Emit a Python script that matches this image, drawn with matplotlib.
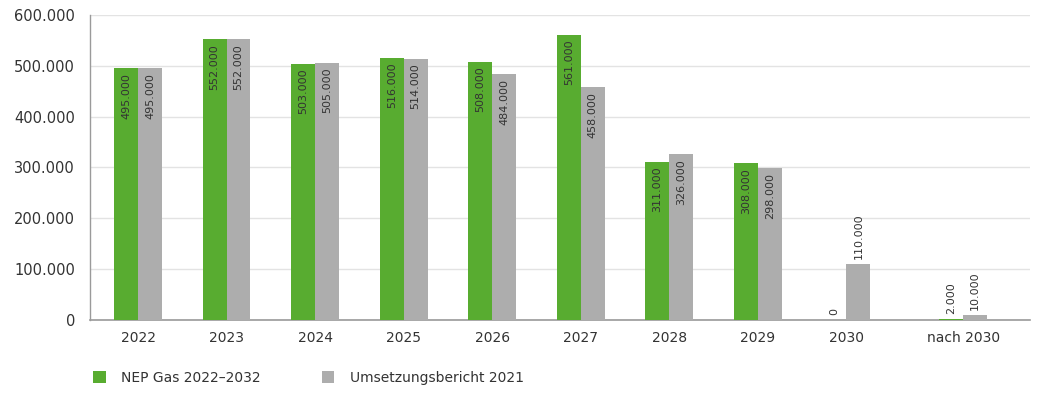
import matplotlib.pyplot as plt
from matplotlib.ticker import FuncFormatter

plt.rcParams['font.family'] = ['DejaVu Sans']

categories = ['2022', '2023', '2024', '2025', '2026', '2027', '2028', '2029', '2030', 'nach 2030']
nep_gas = [495000, 552000, 503000, 516000, 508000, 561000, 311000, 308000, 0, 2000]
umsetzung = [495000, 552000, 505000, 514000, 484000, 458000, 326000, 298000, 110000, 10000]
series_names = ['NEP Gas 2022–2032', 'Umsetzungsbericht 2021']

GREEN = '#58ac30'
GRAY = '#adadad'
TEXT = '#333333'


def de_fmt(v):
    return f"{int(v):,}".replace(",", ".")


# last group sits a bit further right
xs = [i for i in range(9)] + [9.32]
w = 0.27

fig = plt.figure(figsize=(10.37, 4.05), dpi=100)
ax = fig.add_axes([0.087, 0.21, 0.906, 0.753])

b1 = ax.bar([x - w / 2 for x in xs], nep_gas, width=w, color=GREEN, label=series_names[0], zorder=3)
b2 = ax.bar([x + w / 2 for x in xs], umsetzung, width=w, color=GRAY, label=series_names[1], zorder=3)

for bars, vals in ((b1, nep_gas), (b2, umsetzung)):
    for bar, v in zip(bars, vals):
        cx = bar.get_x() + bar.get_width() / 2
        if v >= 200000:
            ax.text(cx, v - 9000, de_fmt(v), rotation=90, ha='center', va='top',
                    fontsize=8, color=TEXT, zorder=4)
        else:
            ax.text(cx, v + 9000, de_fmt(v), rotation=90, ha='center', va='bottom',
                    fontsize=8, color=TEXT, zorder=4)

ax.set_ylim(0, 600000)
ax.set_xlim(-0.54, 9.32 + 0.75)
ax.set_yticks(range(0, 600001, 100000))
ax.yaxis.set_major_formatter(FuncFormatter(lambda v, p: de_fmt(v)))
ax.set_xticks(xs)
ax.set_xticklabels(categories)
ax.tick_params(axis='x', length=0, pad=8, labelsize=10, labelcolor=TEXT)
ax.tick_params(axis='y', length=0, pad=11, labelsize=10.5, labelcolor=TEXT)
ax.grid(axis='y', color='#e3e3e3', linewidth=1, zorder=0)

for s in ('top', 'right'):
    ax.spines[s].set_visible(False)
ax.spines['left'].set_color('#9a9a9a')
ax.spines['bottom'].set_color('#9a9a9a')
ax.spines['left'].set_linewidth(1)
ax.spines['bottom'].set_linewidth(1.2)

fig.legend(handles=[b1, b2], labels=series_names, loc='center left',
           bbox_to_anchor=(0.078, 0.067), ncol=2, frameon=False,
           handlelength=0.9, handleheight=0.9, handletextpad=1.1,
           columnspacing=4.4, fontsize=10, labelcolor=TEXT)

fig.savefig('out.png', dpi=100)
